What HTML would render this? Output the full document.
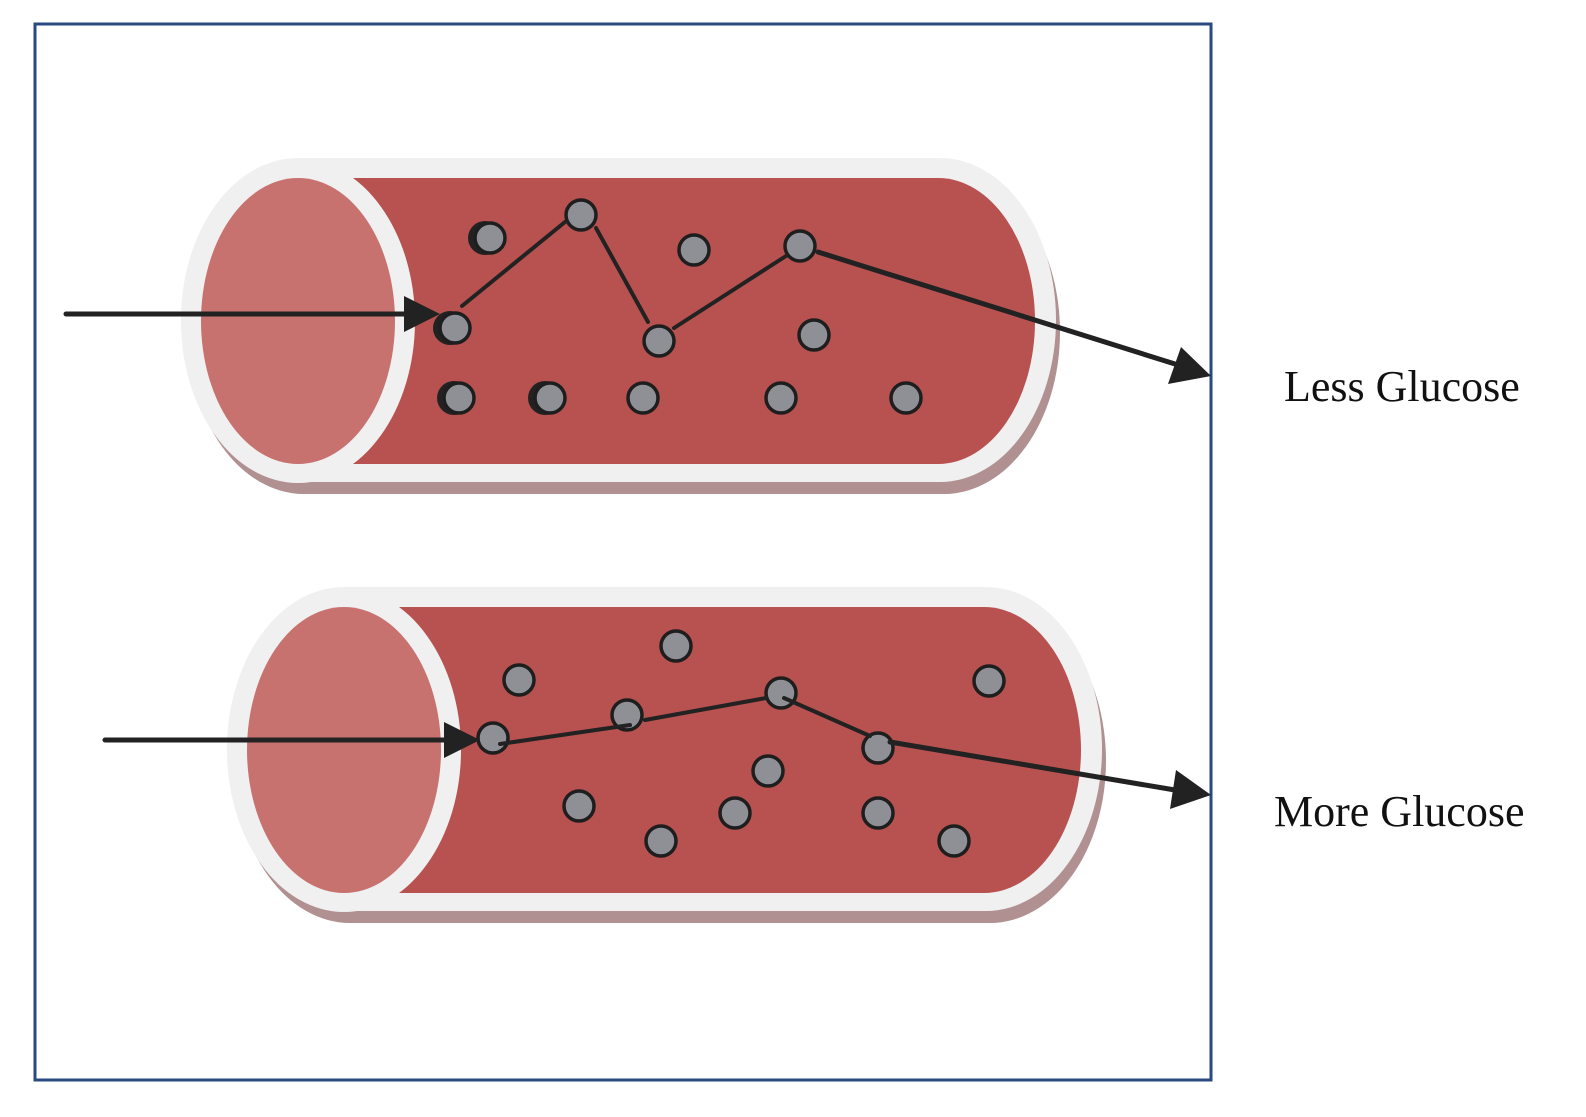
<!DOCTYPE html>
<html><head><meta charset="utf-8"><style>
html,body{margin:0;padding:0;background:#fff;}
svg{display:block;}
text{font-family:"Liberation Serif",serif;}
</style></head><body>
<svg width="1586" height="1117" viewBox="0 0 1586 1117">
<defs>
<symbol id="tube" overflow="visible">
  <!-- shadow -->
  <path d="M304,170 L944,170 A116,162 0 0 1 944,494 L304,494 A116,162 0 0 1 304,170 Z" fill="#b09090"/>
  <!-- white capsule -->
  <path d="M298,158 L940,158 A116,162 0 0 1 940,482 L298,482 A117,162 0 0 1 298,158 Z" fill="#f0f0f0"/>
  <!-- red body -->
  <path d="M298,178 L938,178 A97,143 0 0 1 938,464 L298,464 Z" fill="#b85250"/>
  <!-- left end ring -->
  <ellipse cx="298" cy="321" rx="117" ry="162" fill="#f0f0f0"/>
  <ellipse cx="298" cy="321" rx="97" ry="143" fill="#c87270"/>
</symbol>
<marker id="ah" viewBox="0 0 10 10" refX="9" refY="5" markerWidth="9" markerHeight="9" markerUnits="userSpaceOnUse" orient="auto" overflow="visible">
</marker>
</defs>
<rect x="35" y="24" width="1176" height="1056" fill="none" stroke="#2a4a7f" stroke-width="3"/>
<g><use href="#tube"/></g>
<g transform="translate(46,429)"><use href="#tube"/></g>
<g id="dots"></g>
<g fill="none" stroke="#222" stroke-width="5" stroke-linecap="round">
  <line x1="66" y1="314" x2="410" y2="314"/>
  <polyline points="462,306 565,222" stroke-width="4"/>
  <polyline points="596,228 648,322" stroke-width="4"/>
  <polyline points="674,328 786,256" stroke-width="4"/>
  <line x1="818" y1="252" x2="1175" y2="364"/>
  <line x1="105" y1="740" x2="450" y2="740"/>
  <polyline points="500,744 630,725" stroke-width="4"/>
  <polyline points="645,720 766,698" stroke-width="4"/>
  <polyline points="784,698 870,736" stroke-width="4"/>
  <line x1="890" y1="742" x2="1175" y2="790"/>
</g>
<g fill="#222">
  <polygon points="404,296 440,314 404,332"/>
  <polygon points="1168,384 1181,347 1211,376"/>
  <polygon points="444,722 480,740 444,758"/>
  <polygon points="1170,809 1176,770 1211,795"/>
</g>
<text x="1284" y="401" font-size="44" fill="#111">Less Glucose</text>
<text x="1274" y="826" font-size="44" fill="#111">More Glucose</text>
</svg>
<script>
const topDots=[[490,238,1],[581,215,0],[694,250,0],[800,246,0],[455,328,1],[659,341,0],[814,335,0],[459,398,1],[550,398,1],[643,398,0],[781,398,0],[906,398,0]];
const bottomDots=[[519,680,0],[676,646,0],[989,681,0],[627,715,0],[781,693,0],[493,738,0],[878,748,0],[768,771,0],[579,806,0],[735,813,0],[878,813,0],[661,841,0],[954,841,0]];
const ns="http://www.w3.org/2000/svg";
const g=document.getElementById('dots');
function addDot(d,name){
  if(d[2]){
    const s=document.createElementNS(ns,'circle');
    s.setAttribute('cx',d[0]-5);s.setAttribute('cy',d[1]);s.setAttribute('r',17);s.setAttribute('fill','#222');
    
    
    g.appendChild(s);
  }
  const c=document.createElementNS(ns,'circle');
  c.setAttribute('cx',d[0]);c.setAttribute('cy',d[1]);c.setAttribute('r',15);
  c.setAttribute('fill','#8e9096');c.setAttribute('stroke','#1e1e1e');c.setAttribute('stroke-width','3.5');
  
  
  g.appendChild(c);
}
topDots.forEach(d=>addDot(d,'glucose-dot-top'));
bottomDots.forEach(d=>addDot(d,'glucose-dot-bottom'));
</script>
</body></html>
